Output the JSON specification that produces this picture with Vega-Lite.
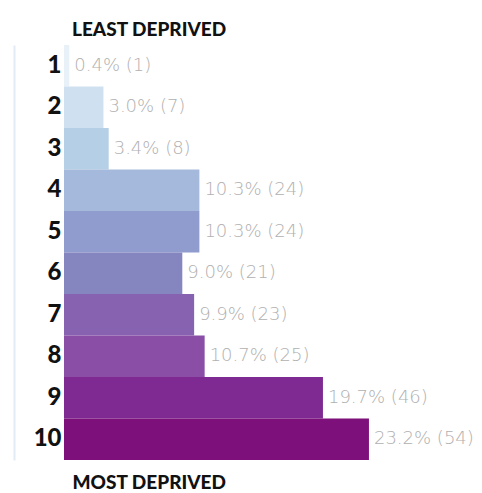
{
  "$schema": "https://vega.github.io/schema/vega-lite/v6.json",
  "autosize": {"type": "none"},
  "padding": {"left": 64, "top": 45, "right": 0, "bottom": 33},
  "width": 418,
  "height": 415,
  "background": "white",
  "config": {"view": {"stroke": null}, "font": "Lato"},
  "title": {"text": "LEAST DEPRIVED", "anchor": "start", "frame": "group", "dx": 8, "offset": 5, "fontSize": 19, "fontWeight": 900, "color": "#111111", "font": "Lato"},
  "data": {"values": [
    {"decile": "1", "pct": 0.4, "label": "0.4% (1)", "color": "#e8f0f8"},
    {"decile": "2", "pct": 3.0, "label": "3.0% (7)", "color": "#cfe0f0"},
    {"decile": "3", "pct": 3.4, "label": "3.4% (8)", "color": "#b5cfe6"},
    {"decile": "4", "pct": 10.3, "label": "10.3% (24)", "color": "#a4b9dc"},
    {"decile": "5", "pct": 10.3, "label": "10.3% (24)", "color": "#8f9ccd"},
    {"decile": "6", "pct": 9.0, "label": "9.0% (21)", "color": "#8585c0"},
    {"decile": "7", "pct": 9.9, "label": "9.9% (23)", "color": "#8662b0"},
    {"decile": "8", "pct": 10.7, "label": "10.7% (25)", "color": "#8a4ea6"},
    {"decile": "9", "pct": 19.7, "label": "19.7% (46)", "color": "#7e2a92"},
    {"decile": "10", "pct": 23.2, "label": "23.2% (54)", "color": "#7d107a"}
  ]},
  "encoding": {
    "y": {"field": "decile", "type": "ordinal", "sort": null,
      "scale": {"paddingInner": 0, "paddingOuter": 0},
      "axis": {"title": null, "domain": true, "domainColor": "#e3ecf5", "domainWidth": 2, "offset": 50, "ticks": false, "labelPadding": -47, "labelFontSize": 24, "labelFontWeight": 900, "labelColor": "#111111", "labelFont": "Lato"}}
  },
  "layer": [
    {
      "mark": {"type": "bar", "cornerRadius": 0},
      "encoding": {
        "x": {"field": "pct", "type": "quantitative", "scale": {"domain": [0, 31.8], "nice": false},
          "axis": {"title": "MOST DEPRIVED", "labels": false, "ticks": false, "domain": false, "grid": false, "titleAnchor": "start", "titleAlign": "left", "titleX": 8, "titlePadding": 13, "titleFontSize": 19, "titleFontWeight": 900, "titleColor": "#111111", "titleFont": "Lato"}},
        "color": {"field": "color", "type": "nominal", "scale": null}
      }
    },
    {
      "mark": {"type": "text", "align": "left", "baseline": "middle", "dx": 5, "fontSize": 18, "color": "#b0b0b0", "font": "DejaVu Sans", "fontWeight": 200},
      "encoding": {
        "x": {"field": "pct", "type": "quantitative"},
        "text": {"field": "label"}
      }
    }
  ]
}
